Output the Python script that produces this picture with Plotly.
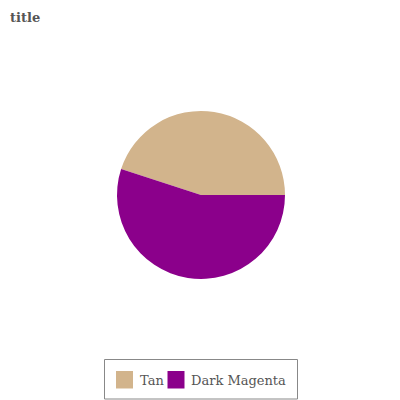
import plotly.graph_objects as go

labels = ["Tan", "Dark Magenta"]
values = [45, 55]
colors = ["#D2B48C", "#8B008B"]

W, H = 400, 400
off = 8  # page body margin


def px(x):
    return (x - off) / W


def py(y):
    return 1 - (y - off) / H


cx, cy, r = 201, 195, 84

fig = go.Figure(go.Pie(
    labels=labels, values=values, sort=False, direction="clockwise",
    rotation=90 - values[0] / sum(values) * 360,
    marker=dict(colors=colors, line=dict(width=0)),
    textinfo="none", hoverinfo="label+percent", showlegend=False,
    domain=dict(x=[px(cx - r), px(cx + r)], y=[py(cy + r), py(cy - r)]),
))

shapes = [dict(type="rect", xref="paper", yref="paper",
               x0=px(104.5), x1=px(297.5), y0=py(399), y1=py(359.5),
               line=dict(color="#888888", width=1), fillcolor="white", layer="below")]
annotations = []
swatch_x = [116, 167.5]
text_x = [137.5, 188.5]
for lab, col, sx, tx in zip(labels, colors, swatch_x, text_x):
    shapes.append(dict(type="rect", xref="paper", yref="paper",
                       x0=px(sx), x1=px(sx + 17), y0=py(388.5), y1=py(371),
                       line=dict(width=0), fillcolor=col))
    annotations.append(dict(text=lab, xref="paper", yref="paper", x=px(tx), y=py(380),
                            xanchor="left", yanchor="middle", showarrow=False,
                            font=dict(family="DejaVu Serif", size=13, color="#555555")))

fig.update_layout(
    width=W, height=H, margin=dict(l=0, r=0, t=0, b=0),
    paper_bgcolor="white", plot_bgcolor="white",
    font=dict(family="DejaVu Serif", color="#555555"),
    title=dict(text="<b>title</b>", x=px(10), xanchor="left", y=py(17), yanchor="middle",
               font=dict(family="DejaVu Serif", size=13, color="#555555")),
    shapes=shapes, annotations=annotations,
)
fig.write_html("out.html")
